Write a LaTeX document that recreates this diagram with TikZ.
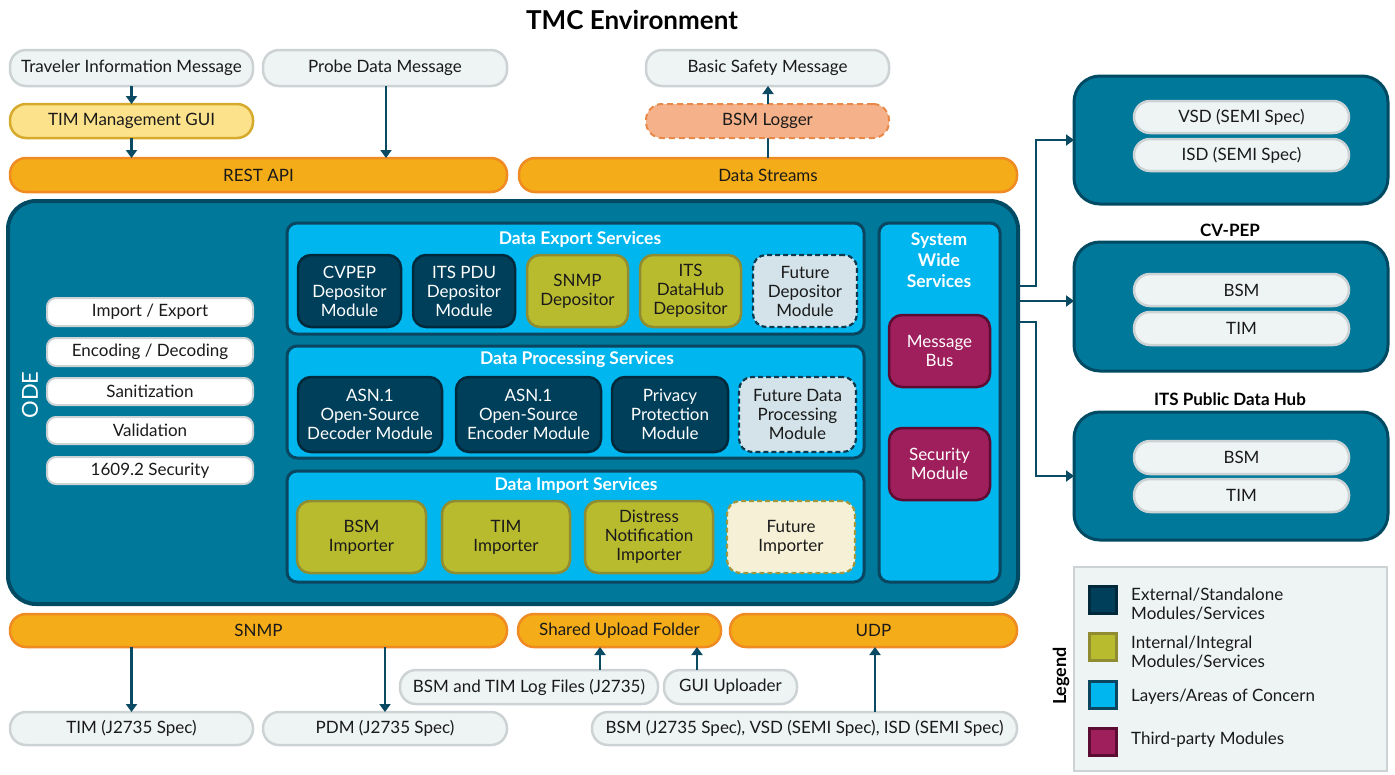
\documentclass[tikz,border=0pt]{standalone}
\usepackage{fontspec}
\setmainfont{Lato}
\usetikzlibrary{arrows.meta,calc}
\definecolor{pillF}{HTML}{EEF3F4}
\definecolor{pillD}{HTML}{CDD3D5}
\definecolor{orgF}{HTML}{F4AC18}
\definecolor{orgD}{HTML}{F08A22}
\definecolor{guiF}{HTML}{FDE28C}
\definecolor{guiD}{HTML}{D6AA2C}
\definecolor{logF}{HTML}{F5B28A}
\definecolor{logD}{HTML}{E8894A}
\definecolor{tealF}{HTML}{00789A}
\definecolor{tealD}{HTML}{004A63}
\definecolor{cyanF}{HTML}{00B6EF}
\definecolor{cyanD}{HTML}{0B4660}
\definecolor{darkF}{HTML}{003F5A}
\definecolor{darkD}{HTML}{00293C}
\definecolor{oliveF}{HTML}{B9BB2F}
\definecolor{oliveD}{HTML}{8F8C32}
\definecolor{futF}{HTML}{D3E3E9}
\definecolor{futD}{HTML}{0C3A4E}
\definecolor{futiF}{HTML}{F6F1D6}
\definecolor{futiD}{HTML}{9E9640}
\definecolor{marF}{HTML}{9E1F5C}
\definecolor{marD}{HTML}{5C0C33}
\definecolor{arrC}{HTML}{0A4A63}
\definecolor{txt}{HTML}{1A1A1A}
\newcommand{\rbox}[7]{\node[#1, minimum width={(#5)-(#3)}, minimum height={(#6)-(#4)}] (#2) at ({((#3)+(#5))/2},{((#4)+(#6))/2}) {#7};}
\tikzset{
  base/.style={inner sep=0pt, outer sep=0pt, align=center, text=txt, font=\fontsize{17}{19}\selectfont},
  pill/.style={base, draw=pillD, fill=pillF, line width=2.5pt, rounded corners=16pt},
  wpill/.style={base, draw=pillD, fill=white, line width=2pt, rounded corners=9pt},
  bar/.style={base, draw=orgD, fill=orgF, line width=2.5pt, rounded corners=16pt},
  gui/.style={base, draw=guiD, fill=guiF, line width=2.5pt, rounded corners=16pt},
  logger/.style={base, draw=logD, fill=logF, line width=2pt, dashed, dash pattern=on 6pt off 4pt, rounded corners=16pt},
  ode/.style={base, draw=tealD, fill=tealF, line width=4pt, rounded corners=28pt},
  panel/.style={base, draw=cyanD, fill=cyanF, line width=3pt, rounded corners=10pt},
  ext/.style={base, draw=tealD, fill=tealF, line width=3pt, rounded corners=26pt},
  modf/.style={font=\fontsize{17}{19}\selectfont},
  dmod/.style={base, modf, text=white, draw=darkD, fill=darkF, line width=2.5pt, rounded corners=13pt},
  omod/.style={base, modf, draw=oliveD, fill=oliveF, line width=2.5pt, rounded corners=13pt},
  fmod/.style={base, modf, draw=futD, fill=futF, line width=2.2pt, dashed, dash pattern=on 5pt off 3pt, rounded corners=13pt},
  fimod/.style={base, modf, draw=futiD, fill=futiF, line width=2.2pt, dashed, dash pattern=on 5pt off 3pt, rounded corners=13pt},
  mmod/.style={base, modf, text=white, draw=marD, fill=marF, line width=2.5pt, rounded corners=13pt},
  ptitle/.style={inner sep=0pt, text=white, font=\bfseries\fontsize{17.5}{21}\selectfont, align=center},
  htitle/.style={inner sep=0pt, text=black, font=\bfseries\fontsize{17}{19}\selectfont},
  arr/.style={draw=arrC, line width=2.6pt, -{Triangle[width=11pt,length=8pt]}},
  line/.style={draw=arrC, line width=2.6pt},
  legsq/.style={inner sep=0pt, minimum size=27pt, line width=3pt},
  legtxt/.style={inner sep=0pt, anchor=west, align=left, text=txt, font=\fontsize{17}{18.5}\selectfont}
}
\begin{document}
\begin{tikzpicture}[x=1pt,y=-1pt]
\useasboundingbox[fill=white] (0,0) rectangle (1395,774);
\node[inner sep=0pt, font=\bfseries\fontsize{26}{30}\selectfont] (title) at (632,20) {TMC Environment};
% top row
\rbox{pill}{tim}{10}{50}{253}{86}{Traveler Information Message}
\rbox{pill}{pdm}{263}{50}{507}{86}{Probe Data Message}
\rbox{pill}{bsmm}{646}{50}{889}{86}{Basic Safety Message}
\rbox{gui}{timgui}{10}{104}{253}{138}{TIM Management GUI}
\rbox{bar}{rest}{10}{158}{507}{192}{REST API}
\rbox{bar}{streams}{519}{158}{1017}{192}{Data Streams}
\draw[line] (streams.north -| 768,0) -- (768,138);
\rbox{logger}{logger}{646}{104}{889}{138}{BSM Logger}
\draw[arr] (tim.south) -- (timgui.north);
\draw[arr] (timgui.south) -- (rest.north -| timgui.south);
\draw[arr] (pdm.south -| 386,0) -- (rest.north -| 386,0);
\draw[arr] (logger.north -| 768,0) -- (bsmm.south -| 768,0);
% ODE
\rbox{ode}{ode}{8}{201}{1018}{604}{}
\node[rotate=90, text=white, font=\fontsize{22}{24}\selectfont, inner sep=0pt] (odel) at (30,395) {ODE};
\rbox{wpill}{ie}{47}{298}{253}{326}{Import / Export}
\rbox{wpill}{ed}{47}{338}{253}{366}{Encoding / Decoding}
\rbox{wpill}{san}{47}{378}{253}{405}{Sanitization}
\rbox{wpill}{val}{47}{417}{253}{444}{Validation}
\rbox{wpill}{sec}{47}{457}{253}{484}{1609.2 Security}
% Export
\rbox{panel}{exp}{287}{223}{864}{334}{}
\node[ptitle] (expt) at (580,239) {Data Export Services};
\rbox{dmod}{cvpep}{298}{255}{401}{327}{CVPEP\\Depositor\\Module}
\rbox{dmod}{itspdu}{413}{255}{515}{327}{ITS PDU\\Depositor\\Module}
\rbox{omod}{snmpd}{527}{255}{628}{327}{SNMP\\Depositor}
\rbox{omod}{itsdh}{640}{255}{741}{327}{ITS\\DataHub\\Depositor}
\rbox{fmod}{futd}{753}{255}{857}{327}{Future\\Depositor\\Module}
% Processing
\rbox{panel}{proc}{287}{346}{864}{458}{}
\node[ptitle] (proct) at (577,360) {Data Processing Services};
\rbox{dmod}{dec}{298}{377}{442}{452}{ASN.1\\Open-Source\\Decoder Module}
\rbox{dmod}{enc}{456}{377}{601}{452}{ASN.1\\Open-Source\\Encoder Module}
\rbox{dmod}{priv}{612}{377}{728}{452}{Privacy\\Protection\\Module}
\rbox{fmod}{futp}{739}{377}{856}{452}{Future Data\\Processing\\Module}
% Import
\rbox{panel}{imp}{287}{471}{864}{582}{}
\node[ptitle] (impt) at (576,485) {Data Import Services};
\rbox{omod}{bsmi}{297}{501}{426}{573}{BSM\\Importer}
\rbox{omod}{timi}{442}{501}{570}{573}{TIM\\Importer}
\rbox{omod}{dni}{585}{501}{713}{573}{Distress\\Notification\\Importer}
\rbox{fimod}{futi}{727}{501}{855}{573}{Future\\Importer}
% System wide
\rbox{panel}{sys}{879}{223}{1000}{582}{}
\node[ptitle] (syst) at (939,260) {System\\Wide\\Services};
\rbox{mmod}{bus}{889}{315}{990}{387}{Message\\Bus}
\rbox{mmod}{secm}{889}{428}{990}{500}{Security\\Module}
% right panels
\rbox{ext}{p1}{1074}{76}{1388}{204}{}
\rbox{pill}{vsd}{1134}{101}{1349}{133}{VSD (SEMI Spec)}
\rbox{pill}{isd}{1134}{139}{1349}{171}{ISD (SEMI Spec)}
\node[htitle] (cvpep) at (1230,230) {CV-PEP};
\rbox{ext}{p2}{1074}{242}{1388}{371}{}
\rbox{pill}{p2bsm}{1134}{274}{1349}{306}{BSM}
\rbox{pill}{p2tim}{1134}{312}{1349}{345}{TIM}
\node[htitle] (hub) at (1230,399) {ITS Public Data Hub};
\rbox{ext}{p3}{1074}{412}{1388}{540}{}
\rbox{pill}{p3bsm}{1134}{441}{1349}{474}{BSM}
\rbox{pill}{p3tim}{1134}{479}{1349}{512}{TIM}
\coordinate (o1) at (1018,286);
\coordinate (o3) at (1018,322);
\draw[arr] (o1) -- (1036,286) |- (p1.west);
\draw[arr] (ode.east |- 0,301) -- (p2.west |- 0,301);
\draw[arr] (o3) -- (1036,322) |- (p3.west);
% bottom
\rbox{bar}{snmp}{10}{614}{507}{647}{SNMP}
\rbox{bar}{shared}{518}{614}{721}{647}{Shared Upload Folder}
\rbox{bar}{udp}{730}{614}{1017}{647}{UDP}
\rbox{pill}{logs}{400}{670}{658}{704}{BSM and TIM Log Files (J2735)}
\rbox{pill}{guiu}{664}{670}{797}{704}{GUI Uploader}
\rbox{pill}{timj}{10}{712}{253}{745}{TIM (J2735 Spec)}
\rbox{pill}{pdmj}{263}{712}{507}{745}{PDM (J2735 Spec)}
\rbox{pill}{all}{592}{712}{1017}{745}{BSM (J2735 Spec), VSD (SEMI Spec), ISD (SEMI Spec)}
\draw[arr] (snmp.south -| timj.north) -- (timj.north);
\draw[arr] (snmp.south -| pdmj.north) -- (pdmj.north);
\draw[arr] (logs.north -| 600,0) -- (shared.south -| 600,0);
\draw[arr] (guiu.north -| 697,0) -- (shared.south -| 697,0);
\draw[arr] (all.north -| 875,0) -- (udp.south -| 875,0);
% legend
\rbox{base, draw=pillD, fill=pillF, line width=2.5pt}{leg}{1074}{567}{1387}{771}{}
\node[rotate=90, inner sep=0pt, font=\bfseries\fontsize{18}{20}\selectfont] (legl) at (1061,676) {Legend};
\node[legsq, draw=darkD, fill=darkF] (l1) at (1103,600) {};
\node[legsq, draw=oliveD, fill=oliveF] (l2) at (1103,647) {};
\node[legsq, draw=cyanD, fill=cyanF] (l3) at (1103,695) {};
\node[legsq, draw=marD, fill=marF] (l4) at (1103,742) {};
\node[legtxt] (t1) at (1131,604) {External/Standalone\\Modules/Services};
\node[legtxt] (t2) at (1131,652) {Internal/Integral\\Modules/Services};
\node[legtxt] (t3) at (1131,697) {Layers/Areas of Concern};
\node[legtxt] (t4) at (1131,740) {Third-party Modules};
\end{tikzpicture}
\end{document}
